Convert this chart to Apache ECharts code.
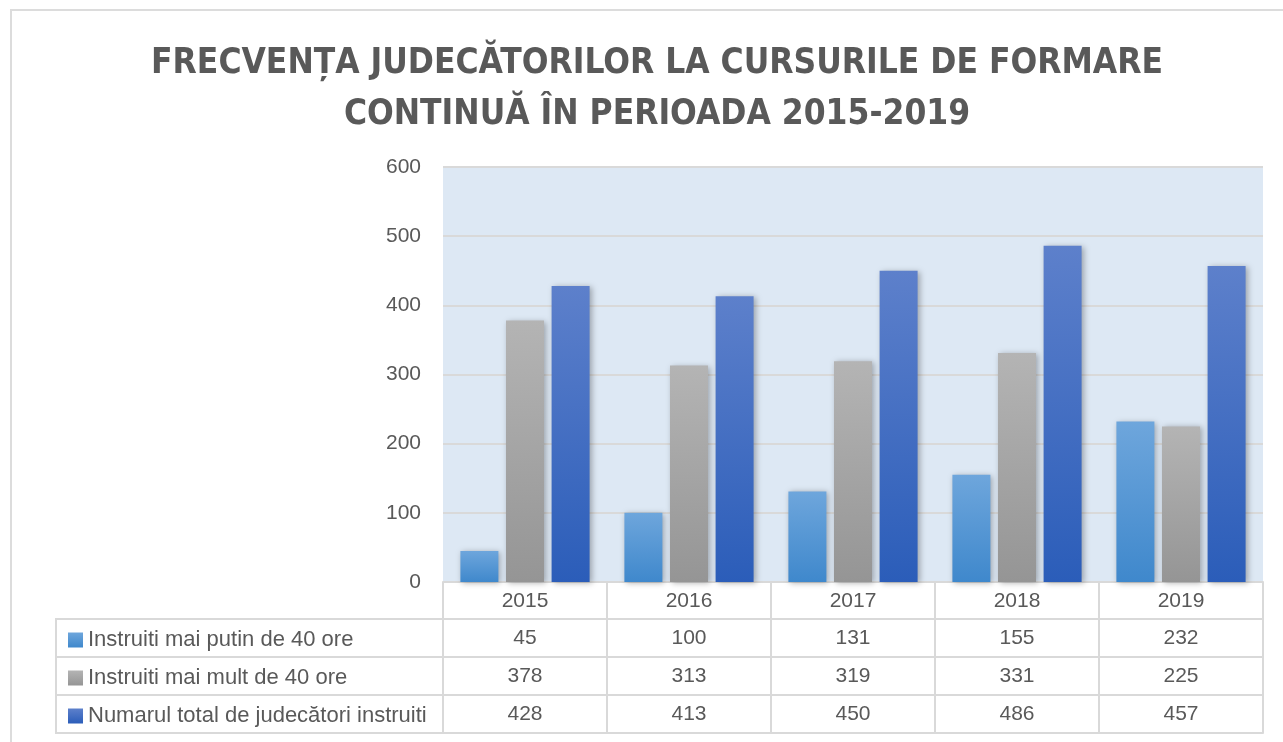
<!DOCTYPE html>
<html>
<head>
<meta charset="utf-8">
<script src="https://cdn.jsdelivr.net/npm/echarts@6/dist/echarts.min.js"></script>
<style>
  html, body { margin: 0; padding: 0; background: #fff; }
  #chart { width: 1283px; height: 742px; }
</style>
</head>
<body>
<div id="chart"></div>
<script>
    var years = ['2015', '2016', '2017', '2018', '2019'];
    var seriesNames = ['Instruiti mai putin de 40 ore', 'Instruiti mai mult de 40 ore', 'Numarul total de judecători instruiti'];
    var sub40 = [45, 100, 131, 155, 232];
    var over40 = [378, 313, 319, 331, 225];
    var total = [428, 413, 450, 486, 457];
    var yTicks = [0, 100, 200, 300, 400, 500, 600];

    var textColor = '#595959';
    var lineColor = '#d9d9d9';
    var font = 'Liberation Sans';

    function grad(top, bottom) {
        return new echarts.graphic.LinearGradient(0, 0, 0, 1, [
            {offset: 0, color: top},
            {offset: 1, color: bottom}
        ]);
    }
    var colors = [
        grad('#6ea6dc', '#3f88cc'),
        grad('#b4b4b4', '#959595'),
        grad('#5d80cb', '#2b5db9')
    ];

    // one category axis per table row, lines and ticks make the cell borders
    function rowAxis(data, offset, showLabel) {
        return {
            type: 'category',
            data: data.map(String),
            position: 'bottom',
            offset: offset,
            axisLine: {show: true, lineStyle: {color: lineColor, width: 2}},
            axisTick: {show: false},
            axisLabel: {show: showLabel, color: textColor, fontSize: 21, fontFamily: font, margin: 9}
        };
    }

    var chart = echarts.init(document.getElementById('chart'));
    var option = {
        animation: false,
        title: {
            text: 'FRECVENȚA JUDECĂTORILOR LA CURSURILE DE FORMARE\nCONTINUĂ ÎN PERIOADA 2015-2019',
            left: 652,
            top: 33,
            textAlign: 'center',
            textStyle: {
                color: textColor,
                fontSize: 35,
                fontWeight: 'bold',
                fontFamily: 'Liberation Sans Narrow, DejaVu Sans Condensed, sans-serif',
                lineHeight: 51
            }
        },
        legend: {
            orient: 'vertical',
            left: 63,
            top: 624,
            itemWidth: 15,
            itemHeight: 15,
            itemGap: 16,
            icon: 'rect',
            textStyle: {color: textColor, fontSize: 22, fontFamily: font, lineHeight: 22},
            data: seriesNames
        },
        grid: {left: 443, right: 20, top: 167, bottom: 160, backgroundColor: '#dde8f4', show: true, borderWidth: 0},
        yAxis: {
            type: 'value',
            min: yTicks[0],
            max: yTicks[yTicks.length - 1],
            interval: 100,
            axisLine: {show: false},
            axisTick: {show: false},
            axisLabel: {color: textColor, fontSize: 21, fontFamily: font, margin: 22},
            splitLine: {lineStyle: {color: lineColor, width: 2}}
        },
        xAxis: [
            {
                type: 'category',
                data: years,
                position: 'bottom',
                axisLine: {show: true, lineStyle: {color: lineColor, width: 2}},
                axisTick: {show: true, alignWithLabel: false, length: 151, lineStyle: {color: lineColor, width: 2}},
                axisLabel: {color: textColor, fontSize: 21, fontFamily: font, margin: 9}
            },
            rowAxis(sub40, 37, true),
            rowAxis(over40, 75, true),
            rowAxis(total, 113, true),
            rowAxis(years, 151, false)
        ],
        graphic: [
            {type: 'rect', shape: {x: 11, y: 10, width: 1400, height: 900}, style: {fill: 'none', stroke: '#dcdcdc', lineWidth: 2}, silent: true},
            {type: 'polyline', shape: {points: [[443, 619], [56, 619], [56, 733], [443, 733]]}, style: {fill: 'none', stroke: lineColor, lineWidth: 2}, silent: true},
            {type: 'line', shape: {x1: 56, y1: 657, x2: 443, y2: 657}, style: {stroke: lineColor, lineWidth: 2}, silent: true},
            {type: 'line', shape: {x1: 56, y1: 695, x2: 443, y2: 695}, style: {stroke: lineColor, lineWidth: 2}, silent: true}
        ],
        series: [sub40, over40, total].map(function (vals, i) {
            return {
                name: seriesNames[i],
                type: 'bar',
                xAxisIndex: 0,
                data: vals,
                barWidth: 38,
                barGap: '20%',
                itemStyle: {
                    color: colors[i],
                    shadowBlur: 6,
                    shadowColor: 'rgba(0,0,0,0.3)',
                    shadowOffsetX: 2,
                    shadowOffsetY: 1
                }
            };
        })
    };
    chart.setOption(option);
</script>
</body>
</html>
